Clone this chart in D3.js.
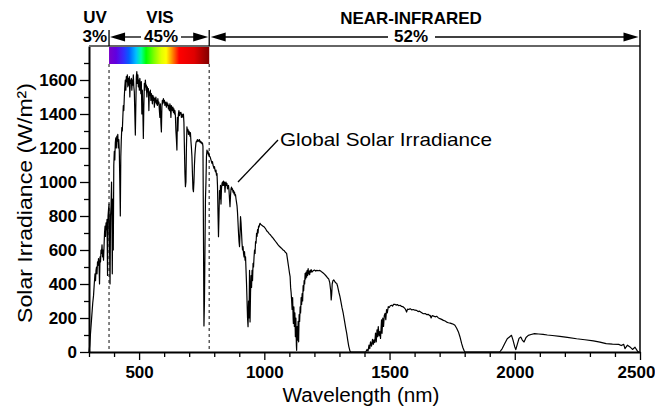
<!DOCTYPE html>
<html><head><meta charset="utf-8">
<script src="https://cdn.jsdelivr.net/npm/d3@7"></script>
<style>
html,body{margin:0;padding:0;background:#fff;}
svg{display:block;font-family:"Liberation Sans",Arial,Helvetica,sans-serif;}
</style></head><body>
<svg id="chart" width="655" height="407"></svg>
<script>
// ---------------- data ----------------
const xTickLabels = [500, 1000, 1500, 2000, 2500];
const yTickLabels = [0, 200, 400, 600, 800, 1000, 1200, 1400, 1600];
const regionNames = ["UV", "VIS", "NEAR-INFRARED"];
const regionShares = ["3%", "45%", "52%"];
const regionBounds = [300, 380, 780, 2500];
const curveLabel = "Global Solar Irradiance";
const xTitle = "Wavelength (nm)";
const yTitle = "Solar Irradiance (W/m²)";

// [wavelength nm, irradiance]
const bandUvVis = [
[300,0],[303,40],[306,110],[309,170],[312,230],[315,290],[318,330],[321,400],[324,460],[326,420],[328,480],[330,500],[332,460],[334,530],[336,510],[338,550],[340,520],[342,400],[344,560],[346,530],[348,600],[350,580],[352,630],[354,560],[356,600],[358,540],[360,620],[362,700],[364,740],[366,680],[368,760],[370,720],[372,780],[374,450],[376,800],[378,840],[380,870],[382,620],[384,400],[386,800],[388,860],[390,1000],[392,700],[393,460],[395,900],[397,600],[399,1100],[401,1180],[403,1130],[405,1230],[407,1260],[409,1200],[411,1270],[413,1240],[415,1280],[417,1200],[419,1250],[421,1180],[423,1000],[425,800],[427,1150],[429,1250],[431,1320],[433,1300],[435,1380],[437,1450],[439,1420],[441,1500],[443,1560],[445,1600],[447,1540],[449,1620],[451,1590],[453,1630],[455,1560],[457,1610],[459,1570],[461,1620],[463,1500],[465,1600],[467,1580],[469,1610],[471,1540],[473,1600],[475,1570],[477,1630],[479,1560],[481,1530],[483,1400],[485,1276],[487,1450],[489,1620],[491,1649],[493,1580],[495,1630],[497,1560],[499,1600],[501,1540],[503,1610],[505,1570],[507,1520],[509,1590],[511,1400],[513,1540],[515,1420],[517,1256],[519,1450],[521,1580],[523,1540],[525,1600],[527,1560],[529,1570],[531,1500],[533,1560],[535,1530],[537,1550],[539,1420],[541,1530],[543,1510],[545,1540],[547,1480],[549,1520],[551,1500],[553,1460],[555,1510],[557,1480],[559,1500],[561,1440],[563,1490],[565,1470],[567,1500],[569,1460],[571,1480],[573,1450],[575,1490],[577,1460],[579,1470],[581,1420],[583,1380],[585,1460],[587,1350],[589,1294],[591,1440],[593,1480],[595,1460],[597,1490],[599,1470],[601,1480],[603,1450],[605,1470],[607,1460],[609,1440],[611,1470],[613,1450],[615,1460],[617,1430],[619,1450],[621,1420],[623,1460],[625,1440],[627,1380],[629,1450],[631,1430],[633,1420],[635,1440],[637,1410],[639,1430],[641,1400],[643,1420],[645,1390],[647,1300],[649,1250],[651,1188],[653,1380],[655,1300],[657,1400],[659,1420],[661,1390],[663,1410],[665,1400],[667,1410],[669,1380],[671,1400],[673,1390],[675,1380],[677,1400],[679,1350],[681,1200],[683,1050],[685,972],[687,1000],[689,1200],[691,1325],[693,1300],[695,1310],[697,1280],[699,1300],[701,1290],[703,1270],[705,1290],[707,1240],[709,1200],[711,1150],[713,1050],[715,960],[717,943],[719,1000],[721,1100],[723,1161],[725,1200],[727,1230],[729,1240],[731,1237],[733,1250],[735,1240],[737,1245],[739,1240],[741,1250],[743,1235],[745,1240],[747,1230],[749,1235],[751,1225],[753,1230],[755,1210],[757,700],[759,153],[761,300],[763,600],[765,900],[767,1000],[769,1150],[771,1188],[773,1170],[775,1180],[777,1160],[779,1170]
];
const bandNir1 = [
[781,1150],[783,1150],[785,1140],[787,1130],[789,1120],[791,1110],[793,1120],[795,1100],[797,1090],[799,1080],[801,1090],[803,1070],[805,1060],[807,1070],[809,1040],[811,1050],[813,980],[815,820],[817,678],[819,800],[821,950],[823,900],[825,980],[827,870],[829,960],[831,990],[833,1000],[835,980],[837,1005],[839,980],[841,1000],[843,940],[845,990],[847,1000],[849,980],[851,990],[853,960],[855,975],[857,980],[859,950],[861,900],[863,855],[865,920],[867,960],[869,970],[871,955],[873,960],[875,940],[877,950],[879,930],[881,940],[883,920],[885,925],[887,900],[889,880],[891,860],[893,820],[895,760],[897,700],[899,650],[901,620],[903,700],[905,796],[907,760],[909,700],[911,640],[913,600],[915,620],[917,580],[919,560],[921,590],[923,540],[925,560],[927,480],[929,400],[931,300],[933,200],[935,149],[937,300],[939,200],[941,480],[943,177],[945,350],[947,450],[949,380],[951,480],[953,420],[955,521],[957,500],[959,560],[961,600],[963,580],[965,650],[967,640],[969,698],[971,680],[973,720],[975,700],[977,740],[979,735],[981,750],[983,757],[985,752],[987,748],[990,745],[995,740],[1000,735],[1005,725],[1010,712],[1015,705],[1020,695],[1025,688],[1030,678],[1035,670],[1040,660],[1045,650],[1050,640],[1055,630],[1060,622],[1065,615],[1070,608],[1075,600],[1080,595],[1085,585],[1089,580],[1093,540],[1097,500],[1101,460],[1103,443],[1105,380],[1107,350],[1109,306],[1111,250],[1113,320],[1115,200],[1116,168],[1118,265],[1120,150],[1122,230],[1124,90],[1126,200],[1128,40],[1129,10],[1131,150],[1133,70],[1135,180],[1137,60],[1139,220],[1141,180],[1143,265],[1145,230],[1147,320],[1149,280],[1151,343],[1153,300],[1155,390],[1157,360],[1159,420],[1161,400],[1163,463],[1165,430],[1167,470],[1169,440],[1171,480],[1173,450],[1175,490],[1177,460],[1179,475],[1181,455],[1183,480],[1185,470],[1187,485],[1190,470],[1195,478],[1200,482],[1205,476],[1210,480],[1215,478],[1220,480],[1225,476],[1230,470],[1235,465],[1240,458],[1245,450],[1249,443],[1253,435],[1257,430],[1261,410],[1265,360],[1267,306],[1269,340],[1271,400],[1274,420],[1277,424],[1280,418],[1283,410],[1286,406],[1289,404],[1292,390],[1295,370],[1298,350],[1302,326],[1306,295],[1310,262],[1315,228],[1320,185],[1325,140],[1329,110],[1333,70],[1337,35],[1342,5],[1345,0],[1405,0]
];
const bandNir2 = [
[1410,15],[1414,5],[1418,40],[1421,20],[1424,60],[1428,35],[1432,75],[1435,45],[1438,72],[1441,55],[1444,111],[1447,60],[1450,130],[1452,90],[1455,150],[1458,95],[1461,120],[1464,80],[1468,189],[1470,110],[1473,200],[1476,150],[1479,215],[1482,227],[1485,190],[1488,250],[1491,230],[1495,267],[1499,262],[1503,272],[1508,275],[1512,270],[1516,280],[1521,281],[1526,276],[1531,279],[1537,272],[1542,275],[1548,268],[1555,265],[1560,258],[1564,250],[1568,235],[1572,252],[1577,250],[1582,255],[1588,248],[1595,250],[1601,246],[1608,245],[1614,238],[1620,240],[1627,233],[1635,225],[1642,226],[1648,220],[1655,221],[1660,214],[1662,216],[1666,200],[1670,214],[1676,211],[1682,207],[1688,210],[1694,202],[1701,196],[1708,192],[1715,186],[1722,182],[1728,176],[1735,172],[1742,170],[1748,167],[1755,163],[1761,157],[1768,140],[1775,118],[1781,90],[1788,49],[1793,25],[1797,10],[1801,0],[1940,0]
];
const bandNir3 = [
[1950,20],[1960,50],[1970,78],[1980,90],[1987,98],[1993,70],[2000,30],[2004,14],[2010,45],[2017,80],[2024,88],[2030,70],[2037,59],[2045,85],[2054,98],[2065,103],[2079,108],[2095,106],[2113,104],[2130,100],[2150,97],[2180,92],[2210,86],[2247,78],[2280,72],[2314,65],[2340,58],[2365,49],[2390,46],[2415,45],[2425,38],[2435,45],[2440,20],[2450,40],[2460,30],[2470,15],[2480,28],[2490,5],[2495,0]
];

// ---------------- drawing ----------------
const svg = d3.select("#chart");
const x = d3.scaleLinear().domain([300, 2500]).range([89, 640]);
const y = d3.scaleLinear().domain([0, 1800]).range([352, 46]);
const FONT = '"Liberation Sans", Arial, Helvetica, sans-serif';

// colour bar gradient (visible band)
const defs = svg.append("defs");
const grad = defs.append("linearGradient").attr("id", "vis").attr("x1", "0%").attr("x2", "100%");
[[0,"#7a00c8"],[0.07,"#6000e0"],[0.15,"#3030ff"],[0.2,"#0060ff"],[0.27,"#00c0ff"],[0.32,"#00ffa0"],
 [0.37,"#00ff00"],[0.45,"#80ff00"],[0.52,"#e0ff00"],[0.57,"#ffff00"],[0.62,"#ffa000"],[0.66,"#ff5000"],
 [0.70,"#ff0000"],[0.85,"#e00000"],[1,"#800000"]].forEach(s =>
  grad.append("stop").attr("offset", s[0]).attr("stop-color", s[1]));

svg.append("rect")
  .attr("x", x(regionBounds[1])).attr("y", y(1800))
  .attr("width", x(regionBounds[2]) - x(regionBounds[1]))
  .attr("height", 18)
  .attr("fill", "url(#vis)");

// dashed region boundaries
[regionBounds[1], regionBounds[2]].forEach(b => {
  svg.append("line")
    .attr("x1", x(b)).attr("x2", x(b))
    .attr("y1", y(1800) + 18).attr("y2", y(0))
    .attr("stroke", "#444").attr("stroke-width", 1.3).attr("stroke-dasharray", "3,3");
});

// spectrum
const spectrum = bandUvVis.concat(bandNir1, bandNir2, bandNir3);
const line = d3.line().x(d => x(d[0])).y(d => y(d[1]));
svg.append("path").datum(spectrum)
  .attr("d", line)
  .attr("fill", "none").attr("stroke", "#000").attr("stroke-width", 1.2)
  .attr("stroke-linejoin", "round");

// axes
const xAxis = d3.axisBottom(x)
  .tickValues(d3.range(300, 2501, 100))
  .tickSize(5).tickSizeOuter(0).tickPadding(9)
  .tickFormat(d => xTickLabels.includes(d) ? d : "");
const gx = svg.append("g").attr("transform", `translate(0,${y(0)})`).call(xAxis);
gx.selectAll(".tick line").attr("y2", d => xTickLabels.includes(d) ? 8 : 5).attr("stroke-width", 1.3);
gx.selectAll(".tick text").filter(d => d === 2500).attr("dx", -4);

const yAxis = d3.axisLeft(y)
  .tickValues(d3.range(0, 1800, 100))
  .tickSize(5).tickSizeOuter(0).tickPadding(7)
  .tickFormat(d => yTickLabels.includes(d) ? d : "");
const gy = svg.append("g").attr("transform", `translate(${x(300)},0)`).call(yAxis);
gy.selectAll(".tick line").attr("x2", d => yTickLabels.includes(d) ? -9 : -5).attr("stroke-width", 1.3);

[gx, gy].forEach(g => {
  g.select(".domain").attr("stroke", "#000").attr("stroke-width", 2);
  g.selectAll("text").attr("font-family", FONT).attr("font-size", 17)
    .attr("font-weight", "bold").attr("fill", "#000");
});

// top frame and right frame
svg.append("line").attr("x1", x(300)).attr("x2", x(2500)).attr("y1", y(1800)).attr("y2", y(1800))
  .attr("stroke", "#666").attr("stroke-width", 2);
svg.append("line").attr("x1", x(2500)).attr("x2", x(2500)).attr("y1", 30).attr("y2", y(0))
  .attr("stroke", "#000").attr("stroke-width", 1.5);

// region boundary ticks above the frame
[regionBounds[1], regionBounds[2]].forEach(b => {
  svg.append("line").attr("x1", x(b)).attr("x2", x(b)).attr("y1", 30).attr("y2", y(1800))
    .attr("stroke", "#000").attr("stroke-width", 1.3);
});

// arrows
const arrowY = 37;
function arrowHead(tipX, dir) {
  const len = 15, half = 4.5;
  svg.append("path")
    .attr("d", `M${tipX},${arrowY} L${tipX + dir * len},${arrowY - half} L${tipX + dir * len},${arrowY + half} Z`)
    .attr("fill", "#000");
}
function hline(a, b) {
  svg.append("line").attr("x1", a).attr("x2", b).attr("y1", arrowY).attr("y2", arrowY)
    .attr("stroke", "#000").attr("stroke-width", 1.3);
}
// VIS arrows
arrowHead(x(380) + 1, 1); arrowHead(x(780) - 1, -1);
hline(x(380) + 14, 141); hline(181, x(780) - 14);
// NIR arrows
arrowHead(x(780) + 1.5, 1); arrowHead(x(2500) - 1.5, -1);
hline(x(780) + 15, 388); hline(435, x(2500) - 15);

// region text
function label(txt, cx, by, anchor) {
  svg.append("text").attr("x", cx).attr("y", by)
    .attr("text-anchor", anchor || "middle")
    .attr("font-family", FONT).attr("font-size", 17).attr("font-weight", "bold")
    .attr("fill", "#000").text(txt);
}
label(regionNames[0], 95, 23);
label(regionNames[1], 160, 23);
label(regionNames[2], 411, 24);
label(regionShares[0], 107, 42, "end");
label(regionShares[1], 161, 42);
label(regionShares[2], 411, 42);

// curve annotation
svg.append("line").attr("x1", 278).attr("y1", 140).attr("x2", 238).attr("y2", 182)
  .attr("stroke", "#000").attr("stroke-width", 1.3);
svg.append("text").attr("x", 280).attr("y", 146)
  .attr("font-family", FONT).attr("font-size", 19)
  .attr("textLength", 212).attr("lengthAdjust", "spacingAndGlyphs")
  .attr("fill", "#000").text(curveLabel);

// axis titles
svg.append("text").attr("x", 361).attr("y", 402).attr("text-anchor", "middle")
  .attr("font-family", FONT).attr("font-size", 20)
  .attr("textLength", 157).attr("lengthAdjust", "spacingAndGlyphs")
  .attr("fill", "#000").text(xTitle);
svg.append("text").attr("transform", "translate(32,203) rotate(-90)").attr("text-anchor", "middle")
  .attr("font-family", FONT).attr("font-size", 20)
  .attr("textLength", 240).attr("lengthAdjust", "spacingAndGlyphs")
  .attr("fill", "#000").text(yTitle);
</script>
</body></html>
